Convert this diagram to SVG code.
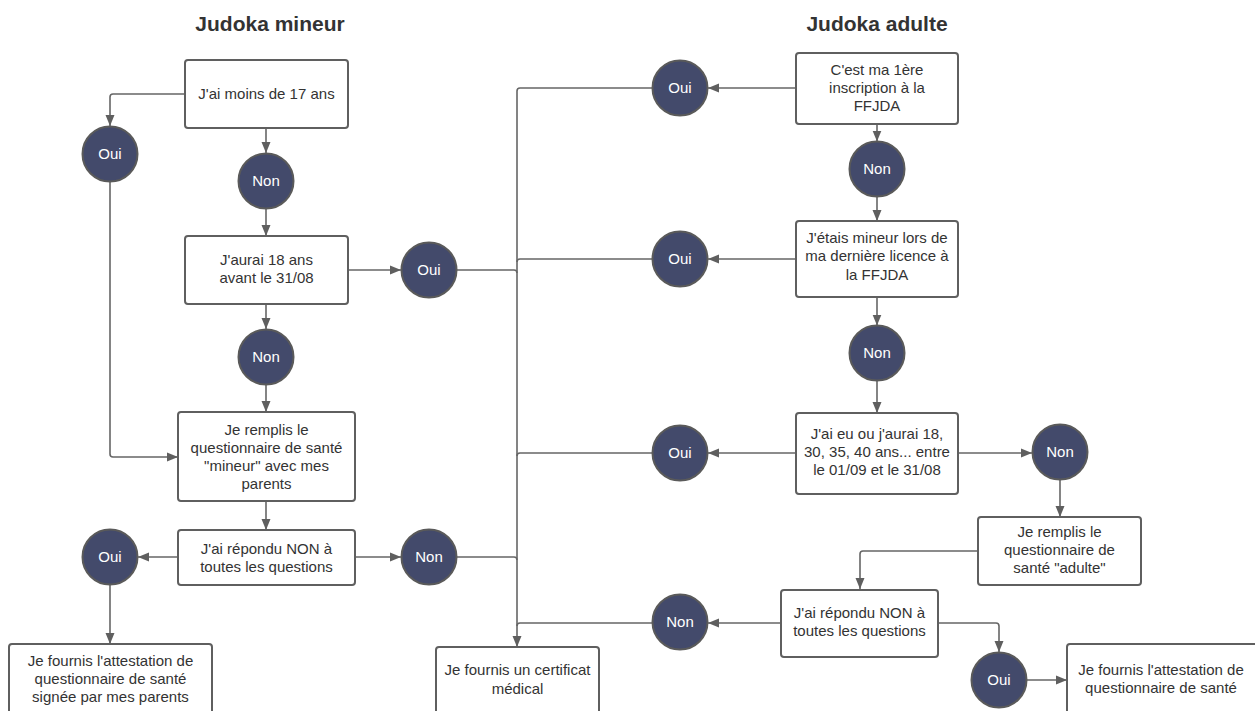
<svg xmlns="http://www.w3.org/2000/svg" width="1255" height="711" viewBox="0 0 1255 711">
<defs>
<marker id="arr" markerUnits="userSpaceOnUse" markerWidth="12" markerHeight="10" refX="11" refY="5" orient="auto">
<path d="M0,0.5 L11,5 L0,9.5 z" fill="#5f5f5f"/>
</marker>
<style>
.box{fill:#fff;stroke:#5f5f5f;stroke-width:2}
.circ{fill:#434a6b;stroke:#5a5a5a;stroke-width:2}
.t{font-family:"Liberation Sans",Arial,sans-serif;font-size:15px;fill:#333;text-anchor:middle}
.ct{font-family:"Liberation Sans",Arial,sans-serif;font-size:15px;fill:#fff;text-anchor:middle}
.title{font-family:"Liberation Sans",Arial,sans-serif;font-size:21px;font-weight:bold;fill:#333;text-anchor:middle}
.c{fill:none;stroke:#666;stroke-width:1.6}
.a{marker-end:url(#arr)}
</style>
</defs>
<rect width="1255" height="711" fill="#fff"/>
<text class="title" x="270" y="31">Judoka mineur</text>
<text class="title" x="877" y="31">Judoka adulte</text>

<g id="connectors">
<path class="c a" d="M185,94 H113 Q110,94 110,97 V126"/>
<path class="c a" d="M266,128 V153"/>
<path class="c a" d="M266,208.5 V236"/>
<path class="c a" d="M348,270 H401"/>
<path class="c a" d="M266,304 V329"/>
<path class="c a" d="M266,384.5 V412"/>
<path class="c a" d="M110,181.5 V454 Q110,457 113,457 H178"/>
<path class="c a" d="M266,501 V530"/>
<path class="c a" d="M178,557 H138"/>
<path class="c a" d="M355,557 H401"/>
<path class="c a" d="M110,585 V644"/>
<path class="c a" d="M652.5,88 H520 Q517,88 517,91 V647"/>
<path class="c" d="M456.5,270 H514 Q517,270 517,273"/>
<path class="c" d="M652.5,259 H520 Q517,259 517,262"/>
<path class="c" d="M652.5,453 H520 Q517,453 517,456"/>
<path class="c" d="M456.5,557 H514 Q517,557 517,560"/>
<path class="c" d="M652.5,623 H520 Q517,623 517,626"/>
<path class="c a" d="M796,88 H708"/>
<path class="c a" d="M877,124 V141.5"/>
<path class="c a" d="M877,196.5 V221"/>
<path class="c a" d="M796,259 H708"/>
<path class="c a" d="M877,297 V325.5"/>
<path class="c a" d="M877,380.5 V413"/>
<path class="c a" d="M796,453 H708"/>
<path class="c a" d="M958,453 H1032"/>
<path class="c a" d="M1060,479.5 V517"/>
<path class="c a" d="M978,551 H863 Q860,551 860,554 V589"/>
<path class="c a" d="M781,623 H708"/>
<path class="c a" d="M938,623 H996 Q999,623 999,626 V652"/>
<path class="c a" d="M1026.5,680 H1067"/>
</g>

<g id="box-moins17"><rect class="box" x="185" y="60" width="163" height="68" rx="3"/><text class="t" x="266.5" y="99">J'ai moins de 17 ans</text></g>
<g id="oui-m1"><circle class="circ" cx="110" cy="154" r="27.5"/><text class="ct" x="110" y="159">Oui</text></g>
<g id="non-m1"><circle class="circ" cx="266" cy="181" r="27.5"/><text class="ct" x="266" y="186">Non</text></g>
<g id="box-18ans"><rect class="box" x="185" y="236" width="163" height="68" rx="3"/><text class="t" x="266.5" y="265">J'aurai 18 ans</text><text class="t" x="266.5" y="283">avant le 31/08</text></g>
<g id="oui-m2"><circle class="circ" cx="429" cy="270" r="27.5"/><text class="ct" x="429" y="275">Oui</text></g>
<g id="non-m2"><circle class="circ" cx="266" cy="357" r="27.5"/><text class="ct" x="266" y="362">Non</text></g>
<g id="box-quest-mineur"><rect class="box" x="178" y="412" width="177" height="89" rx="3"/><text class="t" x="266.5" y="435">Je remplis le</text><text class="t" x="266.5" y="453">questionnaire de santé</text><text class="t" x="266.5" y="471">"mineur" avec mes</text><text class="t" x="266.5" y="489">parents</text></g>
<g id="box-repondu-m"><rect class="box" x="178" y="530" width="177" height="55" rx="3"/><text class="t" x="266.5" y="554">J'ai répondu NON à</text><text class="t" x="266.5" y="572">toutes les questions</text></g>
<g id="oui-m3"><circle class="circ" cx="110" cy="557" r="27.5"/><text class="ct" x="110" y="562">Oui</text></g>
<g id="non-m3"><circle class="circ" cx="429" cy="557" r="27.5"/><text class="ct" x="429" y="562">Non</text></g>
<g id="box-attest-parents"><rect class="box" x="9" y="644" width="203" height="74" rx="3"/><text class="t" x="110.5" y="666">Je fournis l'attestation de</text><text class="t" x="110.5" y="684">questionnaire de santé</text><text class="t" x="110.5" y="702">signée par mes parents</text></g>
<g id="box-certificat"><rect class="box" x="436" y="647" width="163" height="72" rx="3"/><text class="t" x="517.5" y="675">Je fournis un certificat</text><text class="t" x="517.5" y="694">médical</text></g>

<g id="box-1ere"><rect class="box" x="796" y="53" width="162" height="71" rx="3"/><text class="t" x="877" y="75">C'est ma 1ère</text><text class="t" x="877" y="93">inscription à la</text><text class="t" x="877" y="111">FFJDA</text></g>
<g id="oui-a1"><circle class="circ" cx="680" cy="88" r="27.5"/><text class="ct" x="680" y="93">Oui</text></g>
<g id="non-a1"><circle class="circ" cx="877" cy="169" r="27.5"/><text class="ct" x="877" y="174">Non</text></g>
<g id="box-mineur-licence"><rect class="box" x="796" y="221" width="162" height="76" rx="3"/><text class="t" x="877" y="243">J'étais mineur lors de</text><text class="t" x="877" y="261">ma dernière licence à</text><text class="t" x="877" y="280">la FFJDA</text></g>
<g id="oui-a2"><circle class="circ" cx="680" cy="259" r="27.5"/><text class="ct" x="680" y="264">Oui</text></g>
<g id="non-a2"><circle class="circ" cx="877" cy="353" r="27.5"/><text class="ct" x="877" y="358">Non</text></g>
<g id="box-ages"><rect class="box" x="796" y="413" width="162" height="81" rx="3"/><text class="t" x="877" y="439">J'ai eu ou j'aurai 18,</text><text class="t" x="877" y="457">30, 35, 40 ans... entre</text><text class="t" x="877" y="475">le 01/09 et le 31/08</text></g>
<g id="oui-a3"><circle class="circ" cx="680" cy="453" r="27.5"/><text class="ct" x="680" y="458">Oui</text></g>
<g id="non-a3"><circle class="circ" cx="1060" cy="452" r="27.5"/><text class="ct" x="1060" y="457">Non</text></g>
<g id="box-quest-adulte"><rect class="box" x="978" y="517" width="163" height="68" rx="3"/><text class="t" x="1059.5" y="537">Je remplis le</text><text class="t" x="1059.5" y="555">questionnaire de</text><text class="t" x="1059.5" y="573">santé "adulte"</text></g>
<g id="box-repondu-a"><rect class="box" x="781" y="590" width="157" height="67" rx="3"/><text class="t" x="859.5" y="618">J'ai répondu NON à</text><text class="t" x="859.5" y="636">toutes les questions</text></g>
<g id="non-a4"><circle class="circ" cx="680" cy="622" r="27.5"/><text class="ct" x="680" y="627">Non</text></g>
<g id="oui-a4"><circle class="circ" cx="999" cy="680" r="27.5"/><text class="ct" x="999" y="685">Oui</text></g>
<g id="box-attest-adulte"><rect class="box" x="1067" y="644" width="195" height="75" rx="3"/><text class="t" x="1161" y="675">Je fournis l'attestation de</text><text class="t" x="1161" y="693">questionnaire de santé</text></g>
</svg>
